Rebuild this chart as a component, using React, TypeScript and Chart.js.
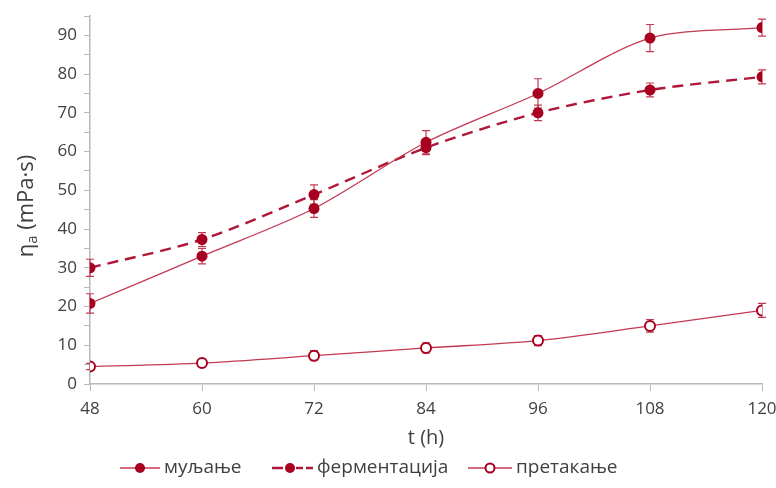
import React, { useEffect, useRef } from "react";
import { Chart, registerables } from "chart.js";

Chart.register(...registerables);

// Time of sampling, hours
const hours = [48, 60, 72, 84, 96, 108, 120];

// Apparent viscosity, mPa·s, with standard deviations
const muljanje = [20.8, 33, 45.3, 62.4, 75, 89.3, 92];
const muljanjeErr = [2.5, 2, 2.3, 3, 3.8, 3.5, 2.2];

const fermentacija = [30, 37.3, 48.9, 61, 70, 75.9, 79.3];
const fermentacijaErr = [2.2, 1.8, 2.5, 1.8, 2, 1.8, 1.8];

const pretakanje = [4.5, 5.4, 7.3, 9.3, 11.2, 15, 19];
const pretakanjeErr = [0.8, 0.8, 1.3, 1.3, 1.3, 1.6, 1.8];

const seriesNames = ["муљање", "ферментација", "претакање"];

const yTicks = [0, 10, 20, 30, 40, 50, 60, 70, 80, 90];
const xTicks = [48, 60, 72, 84, 96, 108, 120];

const RED = "#a8001f";
const LINE_RED = "#c23a52";
const DASH_RED = "#b01638";
const AXIS = "#b8b8b8";
const TEXT = "#404040";
const FONT = "'Open Sans', 'Noto Sans', sans-serif";

const errorSets = [muljanjeErr, fermentacijaErr, pretakanjeErr];

const errorBars = {
  id: "errorBars",
  beforeDatasetsDraw(chart: any) {
    const { ctx, scales } = chart;
    const xs = scales.x;
    const ys = scales.y;
    ctx.save();
    ctx.strokeStyle = LINE_RED;
    ctx.lineWidth = 1.2;
    chart.data.datasets.forEach((ds: any, i: number) => {
      const errs = errorSets[i];
      ds.data.forEach((p: any, j: number) => {
        const x = xs.getPixelForValue(p.x);
        const y1 = ys.getPixelForValue(p.y - errs[j]);
        const y2 = ys.getPixelForValue(p.y + errs[j]);
        ctx.beginPath();
        ctx.moveTo(x, y1);
        ctx.lineTo(x, y2);
        ctx.moveTo(x - 4, y1);
        ctx.lineTo(x + 4, y1);
        ctx.moveTo(x - 4, y2);
        ctx.lineTo(x + 4, y2);
        ctx.stroke();
      });
    });
    ctx.restore();
  },
};

const titlesAndLegend = {
  id: "titlesAndLegend",
  afterDraw(chart: any) {
    const { ctx, chartArea } = chart;
    ctx.save();
    ctx.fillStyle = TEXT;
    ctx.textBaseline = "middle";

    // x-axis title
    ctx.font = `20px ${FONT}`;
    ctx.textAlign = "center";
    ctx.fillText("t (h)", (chartArea.left + chartArea.right) / 2, 438);

    // y-axis title with subscript
    ctx.translate(27, 206);
    ctx.rotate(-Math.PI / 2);
    ctx.textAlign = "left";
    const main = "η";
    const rest = " (mPa·s)";
    ctx.font = `22px ${FONT}`;
    const wMain = ctx.measureText(main).width;
    const wRest = ctx.measureText(rest).width;
    ctx.font = `15px ${FONT}`;
    const wSub = ctx.measureText("a").width;
    const total = wMain + wSub + wRest;
    const x0 = -total / 2;
    ctx.font = `22px ${FONT}`;
    ctx.fillText(main, x0, 0);
    ctx.font = `15px ${FONT}`;
    ctx.fillText("a", x0 + wMain, 6);
    ctx.font = `22px ${FONT}`;
    ctx.fillText(rest, x0 + wMain + wSub, 0);
    ctx.setTransform(1, 0, 0, 1, 0, 0);

    // legend
    const ly = 468;
    ctx.font = `19px ${FONT}`;
    ctx.textAlign = "left";

    // item 1: solid line, filled dot
    ctx.strokeStyle = LINE_RED;
    ctx.lineWidth = 1.4;
    ctx.beginPath();
    ctx.moveTo(120, ly);
    ctx.lineTo(160, ly);
    ctx.stroke();
    ctx.fillStyle = RED;
    ctx.beginPath();
    ctx.arc(140, ly, 5, 0, Math.PI * 2);
    ctx.fill();
    ctx.fillStyle = TEXT;
    ctx.fillText(seriesNames[0], 164, ly);

    // item 2: dashed line, filled dot
    ctx.strokeStyle = DASH_RED;
    ctx.lineWidth = 2.4;
    ctx.beginPath();
    ctx.moveTo(272, ly);
    ctx.lineTo(283, ly);
    ctx.moveTo(296, ly);
    ctx.lineTo(303, ly);
    ctx.moveTo(306, ly);
    ctx.lineTo(313, ly);
    ctx.stroke();
    ctx.fillStyle = RED;
    ctx.beginPath();
    ctx.arc(290, ly, 5, 0, Math.PI * 2);
    ctx.fill();
    ctx.fillStyle = TEXT;
    ctx.fillText(seriesNames[1], 317, ly);

    // item 3: solid line, open dot
    ctx.strokeStyle = LINE_RED;
    ctx.lineWidth = 1.4;
    ctx.beginPath();
    ctx.moveTo(468, ly);
    ctx.lineTo(512, ly);
    ctx.stroke();
    ctx.fillStyle = "#ffffff";
    ctx.strokeStyle = RED;
    ctx.lineWidth = 2;
    ctx.beginPath();
    ctx.arc(490, ly, 4.5, 0, Math.PI * 2);
    ctx.fill();
    ctx.stroke();
    ctx.fillStyle = TEXT;
    ctx.fillText(seriesNames[2], 516, ly);

    ctx.restore();
  },
};

const toPoints = (ys: number[]) => hours.map((h, i) => ({ x: h, y: ys[i] }));

export default function App() {
  const ref = useRef<HTMLCanvasElement | null>(null);

  useEffect(() => {
    document.body.style.margin = "0";
    const canvas = ref.current;
    if (!canvas) return;
    const chart = new Chart(canvas, {
      type: "line",
      data: {
        datasets: [
          {
            label: seriesNames[0],
            data: toPoints(muljanje),
            borderColor: LINE_RED,
            borderWidth: 1.3,
            pointBackgroundColor: RED,
            pointBorderColor: RED,
            pointRadius: 5.5,
            pointBorderWidth: 0,
            tension: 0.3,
          },
          {
            label: seriesNames[1],
            data: toPoints(fermentacija),
            borderColor: DASH_RED,
            borderWidth: 2.4,
            borderDash: [11, 7],
            pointBackgroundColor: RED,
            pointBorderColor: RED,
            pointRadius: 5.5,
            pointBorderWidth: 0,
            tension: 0.3,
          },
          {
            label: seriesNames[2],
            data: toPoints(pretakanje),
            borderColor: LINE_RED,
            borderWidth: 1.3,
            pointBackgroundColor: "#ffffff",
            pointBorderColor: RED,
            pointRadius: 5,
            pointBorderWidth: 2,
            tension: 0.3,
          },
        ],
      },
      options: {
        animation: false,
        responsive: false,
        maintainAspectRatio: false,
        layout: { padding: { top: 16, right: 14, left: 0, bottom: 0 } },
        plugins: {
          legend: { display: false },
          tooltip: { enabled: false },
        },
        scales: {
          x: {
            type: "linear",
            min: 48,
            max: 120,
            afterBuildTicks: (scale: any) => {
              scale.ticks = xTicks.map((v) => ({ value: v }));
            },
            afterFit: (scale: any) => {
              scale.height = 104;
              scale.paddingLeft = 0;
              scale.paddingRight = 0;
            },
            grid: {
              drawOnChartArea: false,
              drawTicks: true,
              tickLength: 7,
              color: AXIS,
            },
            border: { color: AXIS, width: 1.5 },
            ticks: {
              color: TEXT,
              font: { family: FONT, size: 17 },
              padding: 8,
              maxRotation: 0,
              autoSkip: false,
            },
          },
          y: {
            min: 0,
            max: 95,
            afterBuildTicks: (scale: any) => {
              const t: any[] = [];
              for (let v = 0; v <= 95; v += 5) t.push({ value: v });
              scale.ticks = t;
            },
            afterFit: (scale: any) => {
              scale.width = 90;
              scale.paddingTop = 0;
              scale.paddingBottom = 0;
            },
            grid: {
              drawOnChartArea: false,
              drawTicks: true,
              tickLength: 6,
              color: AXIS,
            },
            border: { color: AXIS, width: 1.5 },
            ticks: {
              color: TEXT,
              font: { family: FONT, size: 17 },
              padding: 7,
              autoSkip: false,
              callback: (v: any) => (yTicks.includes(Number(v)) ? String(v) : ""),
            },
          },
        },
      },
      plugins: [errorBars, titlesAndLegend],
    });
    return () => chart.destroy();
  }, []);

  return (
    <div style={{ width: 776, height: 488, background: "#ffffff" }}>
      <canvas ref={ref} width={776} height={488} style={{ display: "block" }} />
    </div>
  );
}
